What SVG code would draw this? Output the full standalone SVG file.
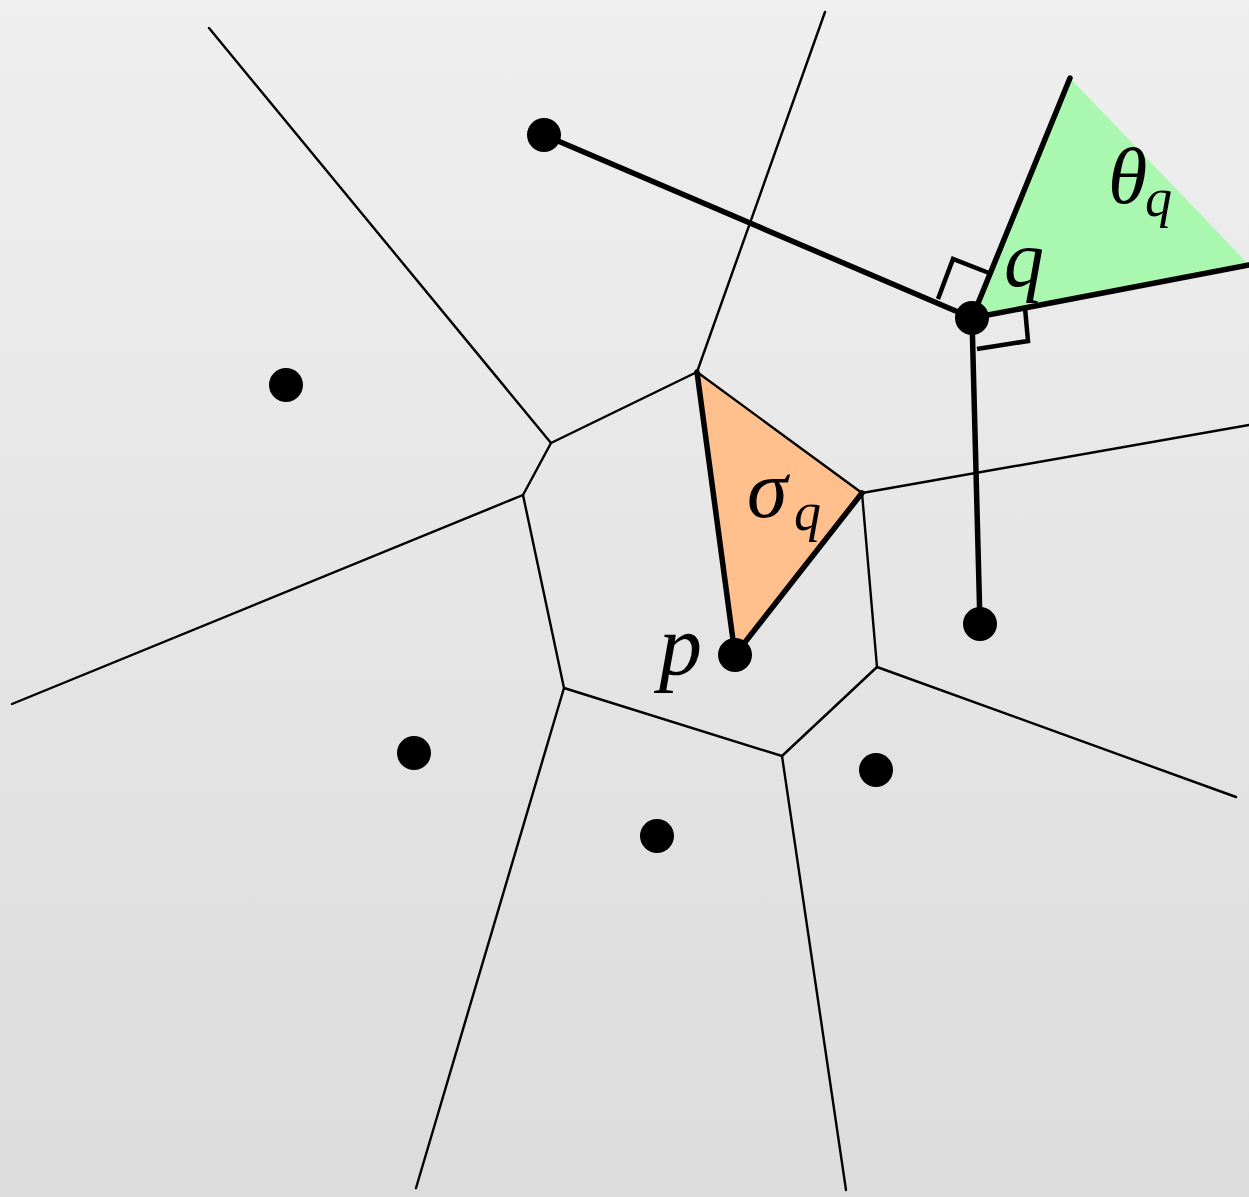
<svg xmlns="http://www.w3.org/2000/svg" width="1249" height="1197" viewBox="0 0 1249 1197">
<defs>
<linearGradient id="bg" x1="0" y1="0" x2="0" y2="1">
<stop offset="0" stop-color="#efefef"/>
<stop offset="1" stop-color="#dcdcdc"/>
</linearGradient>
</defs>
<style>
.thin{stroke:#000;stroke-width:2.4;fill:none;stroke-linecap:round;stroke-linejoin:round}
.thick{stroke:#000;stroke-width:5.5;fill:none;stroke-linecap:round;stroke-linejoin:round}
.mark{stroke:#000;stroke-width:4.5;fill:none;stroke-linejoin:miter}
.dot{fill:#000}
.lbl{font-family:"Liberation Serif","DejaVu Serif",serif;font-style:italic;fill:#000}
</style>
<rect x="0" y="0" width="1249" height="1197" fill="url(#bg)"/>
<g id="regions">
<polygon id="sigma-region" points="697,372 862,493 735,655" fill="#ffc08e"/>
<polygon id="theta-region" points="972,318 1070,78 1249,265" fill="#aaf8b0"/>
</g>
<g id="connectors">
<polygon class="thin" points="697,372 862,493 877,667 782,756 564,688 523,495 551,443"/>
<line class="thin" x1="697" y1="372" x2="825" y2="12"/>
<line class="thin" x1="862" y1="493" x2="1249" y2="425"/>
<line class="thin" x1="877" y1="667" x2="1236" y2="797"/>
<line class="thin" x1="782" y1="756" x2="846" y2="1190"/>
<line class="thin" x1="564" y1="688" x2="416" y2="1188"/>
<line class="thin" x1="523" y1="495" x2="12" y2="704"/>
<line class="thin" x1="551" y1="443" x2="209" y2="28"/>
<line class="thick" x1="697" y1="372" x2="735" y2="655"/>
<line class="thick" x1="862" y1="493" x2="735" y2="655"/>
<line class="thick" x1="544" y1="135" x2="972" y2="318"/>
<line class="thick" x1="972" y1="318" x2="980" y2="624"/>
<line class="thick" x1="972" y1="318" x2="1070" y2="78"/>
<line class="thick" x1="972" y1="318" x2="1249" y2="265"/>
<polyline class="mark" points="938,299 953,259 989,273"/>
<polyline class="mark" points="977,349 1028,341 1025,308"/>
</g>
<g id="sites">
<circle id="s1" class="dot" cx="544" cy="135" r="17"/>
<circle id="s2" class="dot" cx="286" cy="385" r="17"/>
<circle id="s3" class="dot" cx="414" cy="753" r="17"/>
<circle id="s4" class="dot" cx="657" cy="836" r="17"/>
<circle id="s5" class="dot" cx="876" cy="770" r="17"/>
<circle id="s6" class="dot" cx="980" cy="624" r="17"/>
<circle id="p" class="dot" cx="735" cy="655" r="17"/>
<circle id="q" class="dot" cx="972" cy="318" r="17"/>
</g>
<g id="labels">
<text class="lbl" x="1108" y="203" font-size="80">θ</text>
<text class="lbl" x="1145" y="216" font-size="54">q</text>
<text class="lbl" x="1004" y="286" font-size="80">q</text>
<text class="lbl" x="747" y="517" font-size="82">σ</text>
<text class="lbl" x="794" y="530" font-size="54">q</text>
<text class="lbl" x="659" y="674" font-size="86">p</text>
</g>
</svg>
